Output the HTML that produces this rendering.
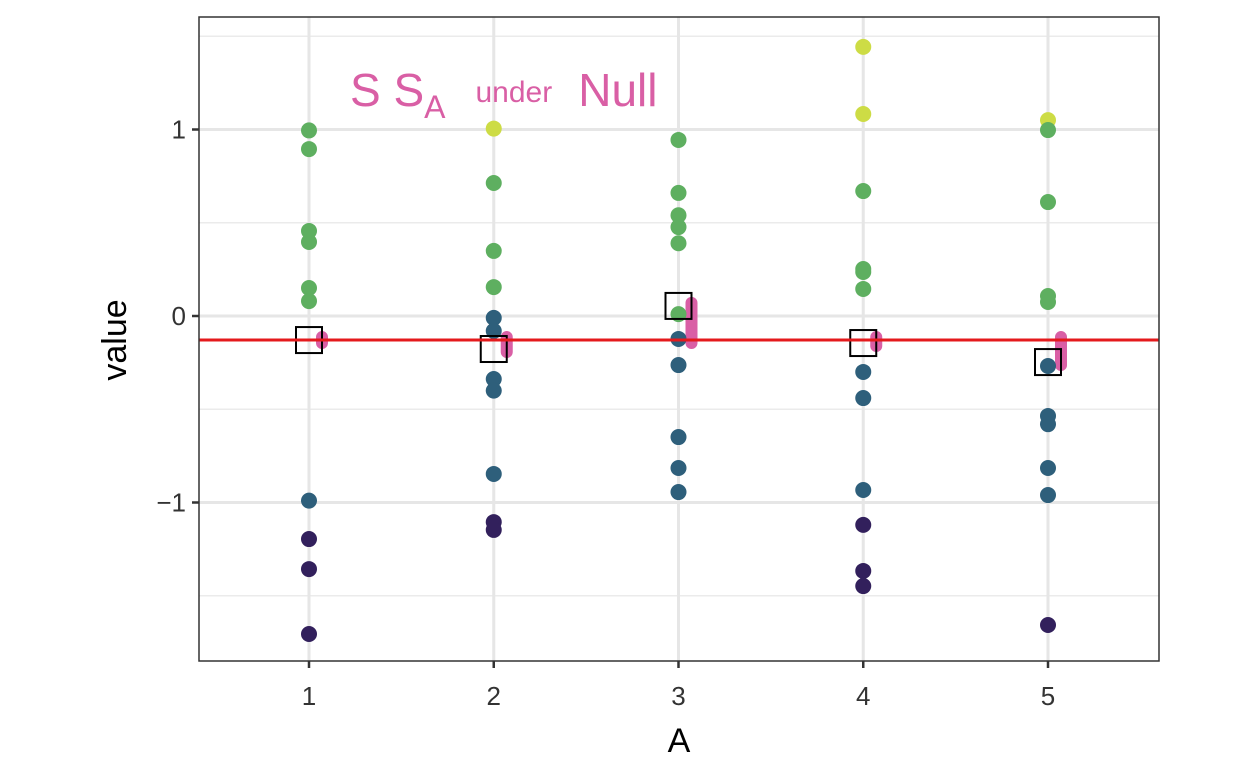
<!DOCTYPE html>
<html><head><meta charset="utf-8"><style>
html,body{margin:0;padding:0;background:#fff;}
svg{display:block;font-family:"Liberation Sans",sans-serif;}
</style></head><body>
<svg id="chart" width="1248" height="768" viewBox="0 0 1248 768">
  <rect x="199" y="17" width="960" height="644" fill="#fff"/>
  <g id="grid"></g>
  <g id="overlay"></g>
  <g id="points"></g>
  <g id="means"></g>
  <rect x="199" y="17" width="960" height="644" fill="none" stroke="#333" stroke-width="1.5"/>
  <g id="axes"></g>
  <text x="350" y="106" fill="#D95FA5" font-size="46" font-family="'Liberation Sans',sans-serif">S S<tspan font-size="32" dy="12">A</tspan><tspan dy="-16" font-size="30" dx="30">under</tspan><tspan dy="4" dx="26">Null</tspan></text>
  <text x="679" y="752" text-anchor="middle" font-size="34" fill="#000">A</text>
  <text transform="translate(126,340) rotate(-90)" text-anchor="middle" font-size="34" fill="#000">value</text>
</svg>
<script>
const groups = [1,2,3,4,5];
const g1 = [0.995,0.895,0.456,0.397,0.15,0.08,-0.99,-1.196,-1.357,-1.705];
const g2 = [1.005,0.713,0.349,0.155,-0.01,-0.08,-0.338,-0.40,-0.847,-1.105,-1.147];
const g3 = [0.944,0.66,0.54,0.477,0.39,0.01,-0.123,-0.263,-0.649,-0.815,-0.944];
const g4 = [1.443,1.083,0.67,0.252,0.236,0.145,-0.30,-0.44,-0.933,-1.12,-1.367,-1.448];
const g5 = [1.05,0.997,0.611,0.107,0.075,-0.268,-0.536,-0.58,-0.815,-0.96,-1.657];
const groupValues = [g1,g2,g3,g4,g5];
const groupMeans = [-0.129,-0.177,0.054,-0.145,-0.247];
const grandMean = -0.129;
const yTicks = [-1,0,1];
const yTickLabels = ["\u22121","0","1"];
const yMinor = [-1.5,-0.5,0.5,1.5];
const xTickLabels = ["1","2","3","4","5"];

const NS = "http://www.w3.org/2000/svg";
const xScale = v => 309 + (v-1)*184.75;
const yScale = v => 316 - v*186.5;
function mk(parent, tag, attrs){const e=document.createElementNS(NS,tag);for(const k in attrs)e.setAttribute(k,attrs[k]);document.getElementById(parent).appendChild(e);return e;}
function color(v){ if(v>1) return "#CDDC45"; if(v>=0) return "#5EAF60"; if(v>=-1) return "#2E5F7B"; return "#32205C"; }

yMinor.forEach(v=>{
  const l=mk("grid","line",{x1:199,x2:1159,y1:yScale(v),y2:yScale(v),stroke:"#EBEBEB","stroke-width":1.5});
  
  
});
yTicks.forEach((v,i)=>{
  const l=mk("grid","line",{x1:199,x2:1159,y1:yScale(v),y2:yScale(v),stroke:"#E6E6E6","stroke-width":3});
  
  
  const t=mk("axes","line",{x1:192,x2:199,y1:yScale(v),y2:yScale(v),stroke:"#333","stroke-width":2.5});
  
  
  const tx=mk("axes","text",{x:186,y:yScale(v)+9,"text-anchor":"end","font-size":26,fill:"#333"});
  tx.textContent=yTickLabels[i];
  
  
});
groups.forEach((g,i)=>{
  const x=xScale(g);
  const l=mk("grid","line",{x1:x,x2:x,y1:17,y2:661,stroke:"#E6E6E6","stroke-width":3});
  
  
  const t=mk("axes","line",{x1:x,x2:x,y1:661,y2:668,stroke:"#333","stroke-width":2.5});
  
  
  const tx=mk("axes","text",{x:x,y:705,"text-anchor":"middle","font-size":26,fill:"#333"});
  tx.textContent=xTickLabels[i];
  
  
  groupValues[i].forEach(v=>{
    const c=mk("points","circle",{cx:x,cy:yScale(v),r:8,fill:color(v)});
    
    
  });
  const m=groupMeans[i];
  const s=mk("means","rect",{x:x-13,y:yScale(m)-13,width:26,height:26,fill:"none",stroke:"#000","stroke-width":2});
  
  
  const y1=yScale(m), y2=yScale(grandMean);
  const p=mk("overlay","line",{x1:x+13,x2:x+13,y1:Math.min(y1,y2)-3,y2:Math.max(y1,y2)+3,stroke:"#D95FA5","stroke-width":12,"stroke-linecap":"round"});
  
  
});
const rl=mk("means","line",{x1:199,x2:1159,y1:yScale(grandMean),y2:yScale(grandMean),stroke:"#E41A1C","stroke-width":3});


</script>
</body></html>
